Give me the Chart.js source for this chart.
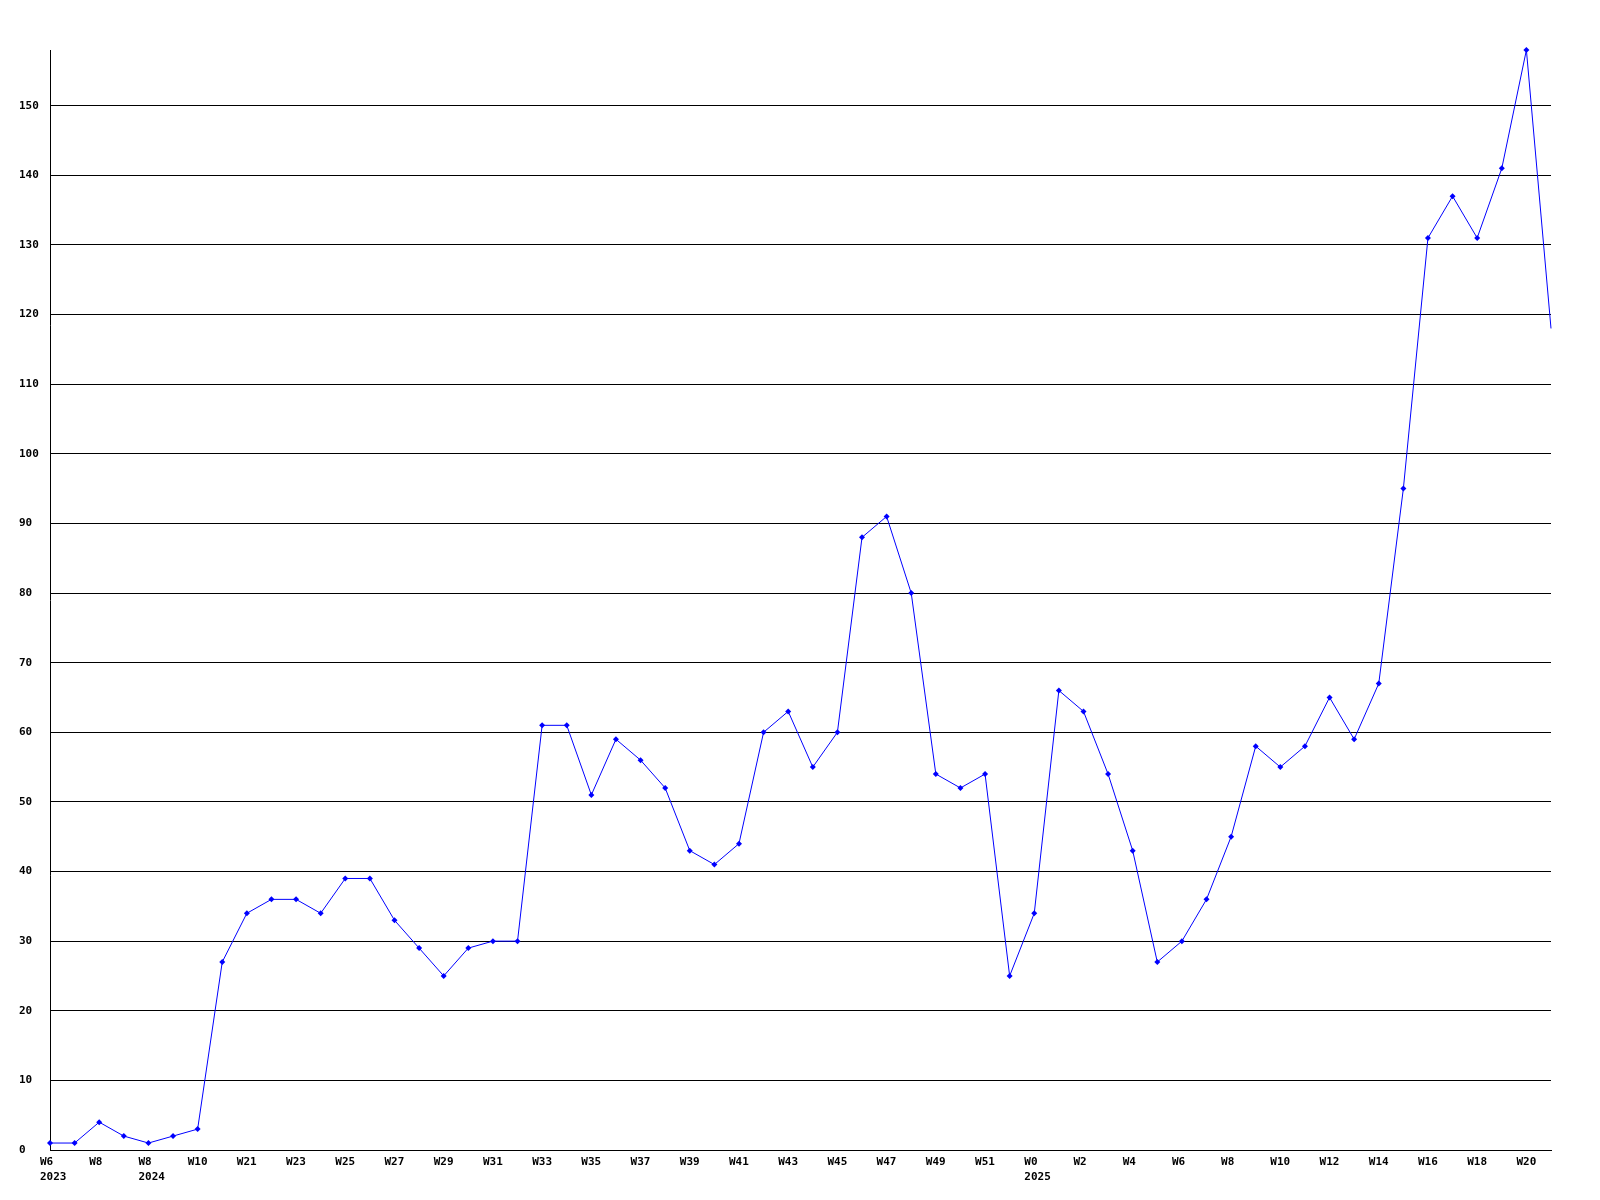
<!DOCTYPE html>
<html>
<head>
<meta charset="utf-8">
<script src="https://cdn.jsdelivr.net/npm/chart.js@4/dist/chart.umd.min.js"></script>
<style>
  html, body { margin: 0; padding: 0; background: #fff; }
  #wrap { width: 1600px; height: 1200px; }
</style>
</head>
<body>
<div id="wrap"><canvas id="chart"></canvas></div>
<script>
// week labels, one per point (only every second one is printed)
const weeks = [
  ["W6", "2023"], "W7", "W8", "W52", ["W8", "2024"], "W9", "W10", "W20",
  "W21", "W22", "W23", "W24", "W25", "W26", "W27", "W28", "W29", "W30",
  "W31", "W32", "W33", "W34", "W35", "W36", "W37", "W38", "W39", "W40",
  "W41", "W42", "W43", "W44", "W45", "W46", "W47", "W48", "W49", "W50",
  "W51", "W52", ["W0", "2025"], "W1", "W2", "W3", "W4", "W5", "W6", "W7",
  "W8", "W9", "W10", "W11", "W12", "W13", "W14", "W15", "W16", "W17",
  "W18", "W19", "W20", "W21"
];

const counts = [
  1, 1, 4, 2, 1, 2, 3, 27, 34, 36, 36, 34, 39, 39, 33, 29, 25, 29, 30, 30,
  61, 61, 51, 59, 56, 52, 43, 41, 44, 60, 63, 55, 60, 88, 91, 80, 54, 52, 54, 25,
  34, 66, 63, 54, 43, 27, 30, 36, 45, 58, 55, 58, 65, 59, 67, 95, 131, 137, 131, 141,
  158, 118
];

const yStep = 10;

const tickFont = { family: "'DejaVu Sans Mono', monospace", size: 11, weight: "bold", lineHeight: 1.4 };

new Chart(document.getElementById("chart"), {
  type: "line",
  data: {
    labels: weeks,
    datasets: [
      {
        data: counts,
        borderColor: "#0000ff",
        backgroundColor: "#0000ff",
        borderWidth: 1,
        pointStyle: "rectRot",
        // last point sits on the right edge, reference shows no marker there
        pointRadius: (ctx) => (ctx.dataIndex === counts.length - 1 ? 0 : 3),
        pointBorderWidth: 0,
        tension: 0,
        clip: false,
      },
    ],
  },
  options: {
    responsive: true,
    maintainAspectRatio: false,
    animation: false,
    layout: { padding: { top: 50, right: 49, left: 19, bottom: 0 } },
    plugins: { legend: { display: false }, tooltip: { enabled: false } },
    scales: {
      x: {
        offset: false,
        grid: { display: false, drawTicks: false },
        border: { color: "#000", width: 1 },
        ticks: {
          color: "#000",
          font: tickFont,
          autoSkip: false,
          maxRotation: 0,
          align: "start",
          labelOffset: -10,
          padding: 4,
          callback: function (val, i) {
            return i % 2 === 0 ? this.getLabelForValue(val) : "";
          },
        },
        afterFit: (axis) => { axis.height = 50; },
      },
      y: {
        min: 0,
        max: Math.max(...counts),
        grid: { color: "#000", lineWidth: 1, drawTicks: false },
        border: { color: "#000", width: 1 },
        ticks: { stepSize: yStep, color: "#000", font: tickFont, crossAlign: "far" },
        afterBuildTicks: (axis) => {
          axis.ticks = axis.ticks.filter((t) => t.value % yStep === 0);
        },
        afterFit: (axis) => { axis.width = 31; },
      },
    },
  },
});
</script>
</body>
</html>
